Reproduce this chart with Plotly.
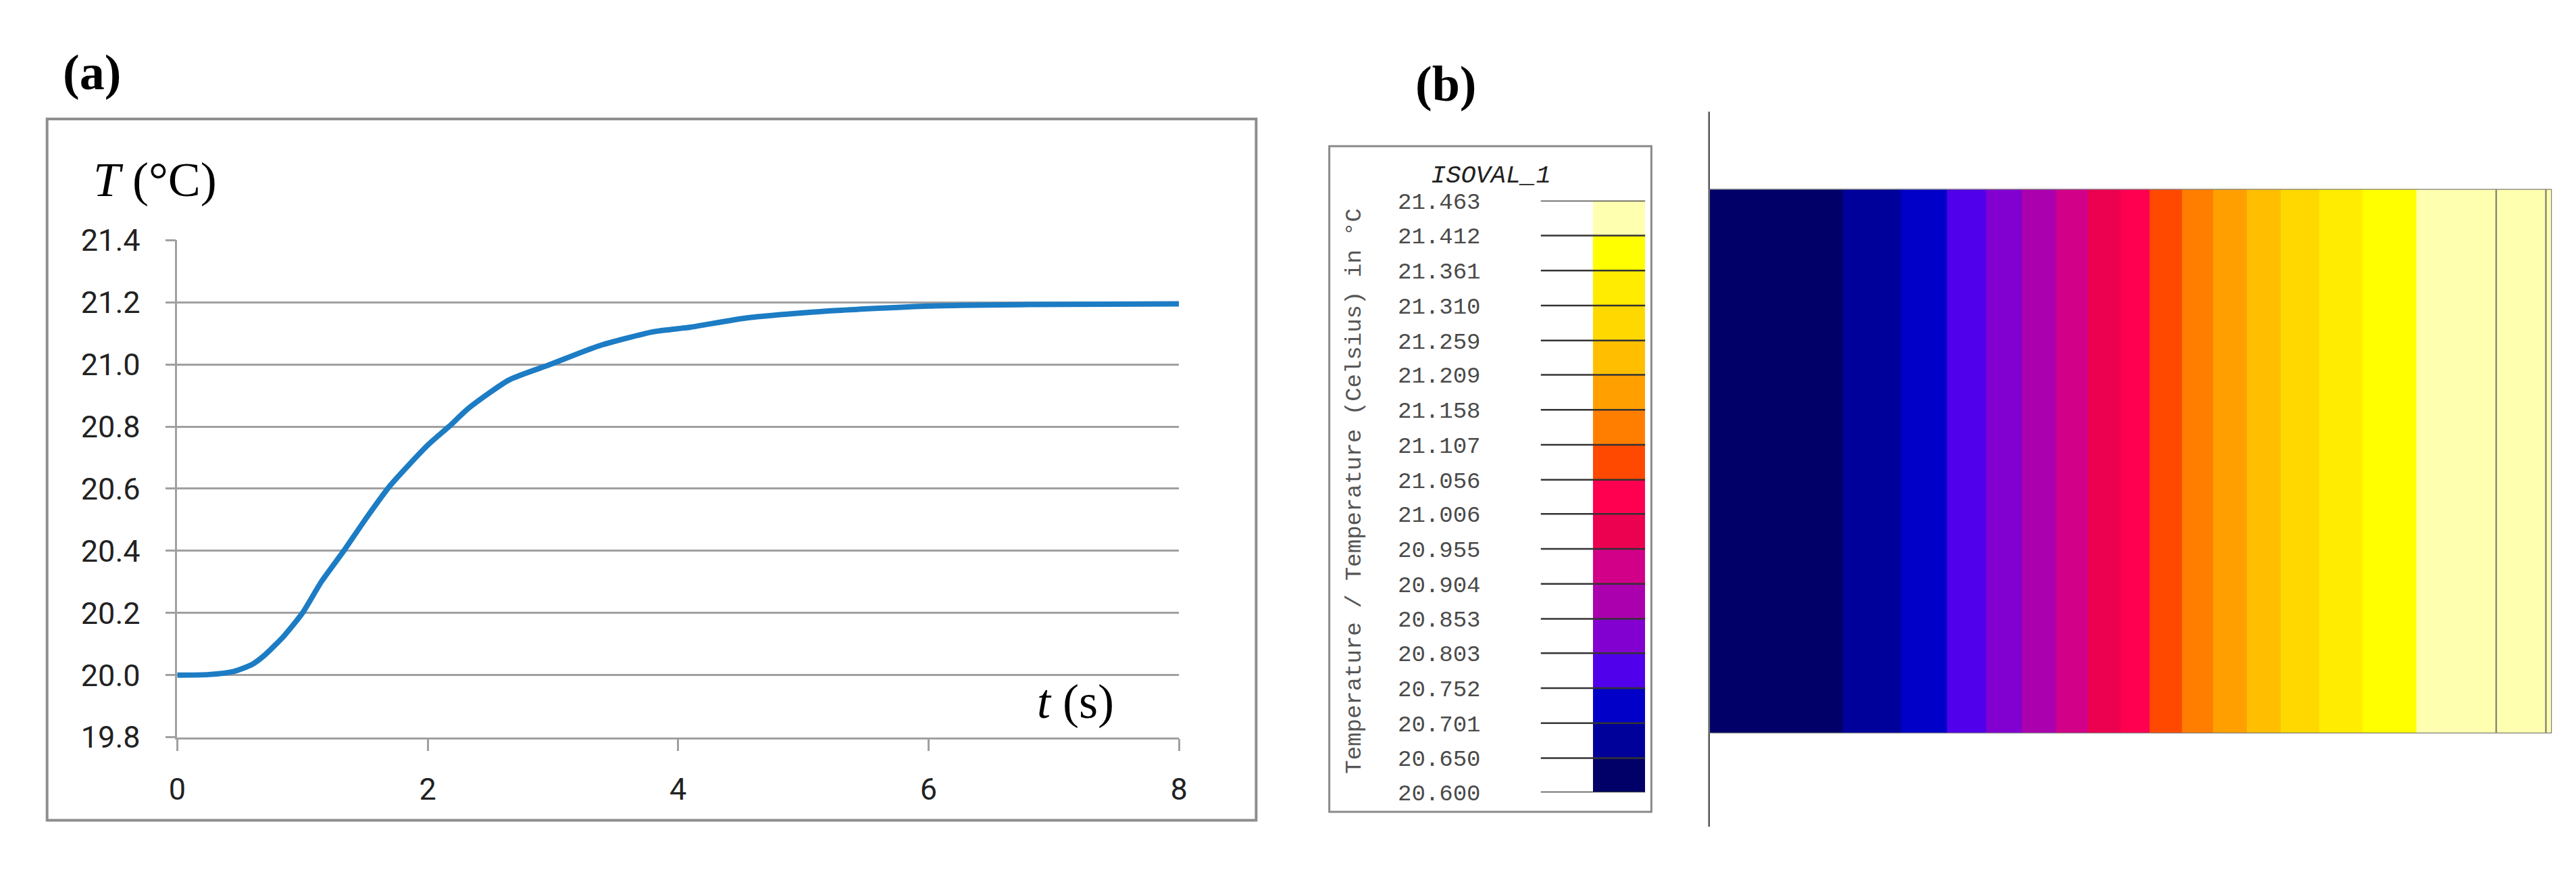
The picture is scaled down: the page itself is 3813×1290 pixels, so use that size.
import plotly.graph_objects as go

W, H = 3813, 1290

# ---------------- data ----------------
# panel (a): temperature history
t_s = [0, 0.25, 0.45, 0.6, 0.7, 0.85, 1.0, 1.15, 1.33, 1.5, 1.7, 2.0, 2.17, 2.33,
       2.65, 2.98, 3.37, 3.8, 4.1, 4.55, 5.2, 6.0, 6.8, 8.0]
T_c = [20.0, 20.002, 20.012, 20.035, 20.065, 20.125, 20.2, 20.3, 20.4, 20.5, 20.61,
       20.74, 20.8, 20.86, 20.95, 21.0, 21.06, 21.105, 21.12, 21.15, 21.172, 21.188,
       21.193, 21.195]
x_ticks = [0, 2, 4, 6, 8]
y_ticks = [19.8, 20.0, 20.2, 20.4, 20.6, 20.8, 21.0, 21.2, 21.4]
y_tick_labels = ["19.8", "20.0", "20.2", "20.4", "20.6", "20.8", "21.0", "21.2", "21.4"]

# panel (b): isovalue levels and colours
iso_labels = ["20.600", "20.650", "20.701", "20.752", "20.803", "20.853", "20.904",
              "20.955", "21.006", "21.056", "21.107", "21.158", "21.209", "21.259",
              "21.310", "21.361", "21.412", "21.463"]
iso_colors = ["#000068", "#00009A", "#0000C8", "#5000EA", "#8200D0", "#AA00AE",
              "#D20088", "#EC0050", "#FF0050", "#FF4800", "#FF7E00", "#FFA000",
              "#FFBF00", "#FFD800", "#FFEC00", "#FFFF00", "#FFFFB0"]
# field: strip edges along the length (fraction of length) and band of each strip
strip_edges = [0.0, 0.159, 0.228, 0.282, 0.329, 0.371, 0.412, 0.450, 0.488, 0.523,
               0.561, 0.598, 0.638, 0.678, 0.724, 0.775, 0.839, 1.0]
strip_band = list(range(17))
mesh_lines = [0.934, 0.993]

# ---------------- helpers ----------------
def px(x):
    return x / W

def py(y):
    return 1 - y / H

levels = [float(s) for s in iso_labels]
lmin, lmax = levels[0], levels[-1]
mids = [(levels[i] + levels[i + 1]) / 2 for i in range(len(levels) - 1)]
cscale = []
for i, c in enumerate(iso_colors):
    a = (levels[i] - lmin) / (lmax - lmin)
    b = (levels[i + 1] - lmin) / (lmax - lmin)
    cscale.append([a, c])
    cscale.append([b, c])
cscale[-1][0] = 1.0

fig = go.Figure()

# panel (a) curve
fig.add_trace(go.Scatter(x=t_s, y=T_c, mode="lines", line=dict(color="#1C7CC4", width=8, shape="spline", smoothing=0.6),
                         xaxis="x", yaxis="y", showlegend=False, hoverinfo="skip"))

# colour legend bar
fig.add_trace(go.Heatmap(z=[[m] for m in mids], x=[0, 1], y=levels, colorscale=cscale,
                         zmin=lmin, zmax=lmax, showscale=False, xaxis="x2", yaxis="y2",
                         hoverinfo="skip"))
lx, ly = [], []
for l in levels:
    lx += [-1, 1, None]
    ly += [l, l, None]
fig.add_trace(go.Scatter(x=lx, y=ly, mode="lines", line=dict(color="#333333", width=2.5),
                         xaxis="x2", yaxis="y2", showlegend=False, hoverinfo="skip"))

# field
fig.add_trace(go.Heatmap(z=[[mids[b] for b in strip_band]], x=strip_edges, y=[0, 1],
                         colorscale=cscale, zmin=lmin, zmax=lmax, showscale=False,
                         xaxis="x3", yaxis="y3", hoverinfo="skip"))

font_tick = dict(family="Roboto, Liberation Sans, sans-serif", size=45, color="#222222")
mono = "Liberation Mono, DejaVu Sans Mono, monospace"

fig.update_layout(
    width=W, height=H, margin=dict(l=0, r=0, t=0, b=0),
    paper_bgcolor="white", plot_bgcolor="rgba(0,0,0,0)",
    xaxis=dict(domain=[px(243), px(1736)], range=[0, 8], tickvals=x_ticks,
               ticktext=[str(v) for v in x_ticks], ticks="outside", ticklen=18,
               tickwidth=2.5, tickcolor="#A0A0A0", showline=True, linecolor="#A0A0A0",
               linewidth=2.5, showgrid=False, zeroline=False, tickfont=font_tick,
               ticklabelstandoff=18, anchor="y"),
    yaxis=dict(domain=[py(1102), py(335)], range=[19.8, 21.4], tickvals=y_ticks,
               ticktext=y_tick_labels, ticks="outside", ticklen=15, tickwidth=2.5,
               tickcolor="#A0A0A0", showline=True, linecolor="#A0A0A0", linewidth=2.5,
               showgrid=True, gridcolor="#A0A0A0", gridwidth=2.5, zeroline=False,
               tickfont=font_tick, ticklabelstandoff=28, anchor="x"),
    xaxis2=dict(domain=[px(2275), px(2431)], range=[-1, 1.0], visible=False, anchor="y2"),
    yaxis2=dict(domain=[py(1187), py(274)], range=[lmin, lmax], tickvals=levels,
                ticktext=iso_labels, ticks="", showline=False, showgrid=False,
                zeroline=False, tickfont=dict(family=mono, size=34, color="#4A4A4A"),
                ticklabelstandoff=88, anchor="x2"),
    xaxis3=dict(domain=[px(2526), px(3782)], range=[0, 1], visible=False, anchor="y3"),
    yaxis3=dict(domain=[py(1096), py(256)], range=[0, 1], visible=False, anchor="x3"),
)

shapes = [
    # panel (a) frame
    dict(type="rect", xref="paper", yref="paper", x0=px(49), x1=px(1851), y0=py(1230), y1=py(148),
         line=dict(color="#8E8E8E", width=4), layer="below"),
    # legend frame
    dict(type="rect", xref="paper", yref="paper", x0=px(1960), x1=px(2440), y0=py(1217), y1=py(190),
         line=dict(color="#8A8A8A", width=3), layer="below"),
    # field axis line
    dict(type="line", xref="paper", yref="paper", x0=px(2526), x1=px(2526), y0=py(1240), y1=py(137),
         line=dict(color="#555555", width=2.5)),
    # field border
    dict(type="rect", xref="x3", yref="y3", x0=0, x1=1, y0=0, y1=1,
         line=dict(color="#808080", width=2.5)),
]
for m in mesh_lines:
    shapes.append(dict(type="line", xref="x3", yref="y3", x0=m, x1=m, y0=0, y1=1,
                       line=dict(color="#8A8A7A", width=2.5)))
fig.update_layout(shapes=shapes)

serif = "Liberation Serif, DejaVu Serif, serif"
ann = [
    dict(text="<b>(a)</b>", x=px(116), y=py(76), font=dict(family=serif, size=74, color="black")),
    dict(text="<b>(b)</b>", x=px(2134), y=py(94), font=dict(family=serif, size=74, color="black")),
    dict(text="<i>T</i> (°C)", x=px(210), y=py(242), font=dict(family=serif, size=72, color="black")),
    dict(text="<i>t</i> (s)", x=px(1582), y=py(1047), font=dict(family=serif, size=72, color="black")),
    dict(text="<i>ISOVAL_1</i>", x=px(2201), y=py(236), font=dict(family=mono, size=37, color="#222222")),
    dict(text="Temperature / Temperature (Celsius) in °C", x=px(1998), y=py(722), textangle=-90,
         font=dict(family=mono, size=34, color="#555555")),
]
for a in ann:
    a.update(xref="paper", yref="paper", showarrow=False, xanchor="center", yanchor="middle")
fig.update_layout(annotations=ann)

fig.write_html("out.html")
